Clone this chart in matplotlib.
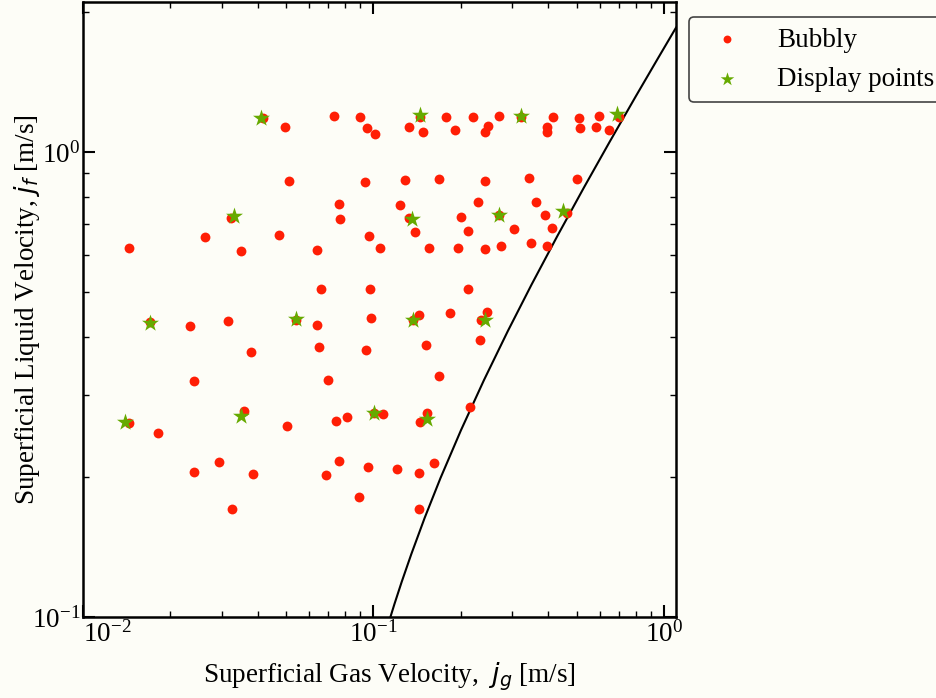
import matplotlib
matplotlib.use('Agg')
import matplotlib.pyplot as plt

# ---------------- data ----------------
bubbly_jg = [0.0418, 0.0494, 0.0733, 0.0896, 0.0952, 0.1014, 0.1328, 0.1450, 0.1481, 0.1782,
             0.1913, 0.2203, 0.2487, 0.2415, 0.2714, 0.3224, 0.4155, 0.3950, 0.3941, 0.5107,
             0.5984, 0.5130, 0.5826, 0.6443, 0.6978,
             0.0513, 0.0937, 0.1287, 0.1676, 0.2415, 0.3434, 0.5038,
             0.0762, 0.1230, 0.2291, 0.3639,
             0.0323, 0.0768, 0.1321, 0.1385, 0.1995, 0.2122, 0.2707, 0.3056, 0.3899, 0.4123, 0.4618,
             0.01443, 0.0263, 0.0351, 0.0474, 0.0639, 0.0967, 0.1055, 0.1557, 0.1955, 0.2415,
             0.2742, 0.3478, 0.3963,
             0.0659, 0.0975, 0.2111,
             0.01706, 0.0234, 0.0316, 0.0542, 0.0637, 0.0980, 0.1438, 0.1372, 0.1835, 0.2346, 0.2467,
             0.0380, 0.0647, 0.0944, 0.1521, 0.2328,
             0.0242, 0.0697, 0.1681,
             0.2144, 0.01440, 0.01813, 0.0357, 0.0502, 0.0744, 0.0808, 0.1006, 0.1078, 0.1529, 0.1450,
             0.0294, 0.0241, 0.0385, 0.0689, 0.0758, 0.0960, 0.1208, 0.1435, 0.1611,
             0.0326, 0.0894, 0.1430]
bubbly_jf = [1.180, 1.130, 1.196, 1.188, 1.125, 1.092, 1.130, 1.188, 1.104, 1.188,
             1.115, 1.188, 1.136, 1.102, 1.194, 1.188, 1.190, 1.129, 1.104, 1.182,
             1.196, 1.125, 1.130, 1.115, 1.188,
             0.865, 0.862, 0.872, 0.873, 0.866, 0.879, 0.876,
             0.774, 0.770, 0.779, 0.780,
             0.721, 0.716, 0.722, 0.671, 0.726, 0.676, 0.732, 0.684, 0.731, 0.685, 0.738,
             0.620, 0.656, 0.611, 0.662, 0.616, 0.660, 0.620, 0.622, 0.622, 0.617,
             0.626, 0.636, 0.628,
             0.507, 0.507, 0.507,
             0.431, 0.422, 0.433, 0.435, 0.425, 0.440, 0.447, 0.436, 0.450, 0.436, 0.453,
             0.372, 0.380, 0.375, 0.384, 0.395,
             0.322, 0.324, 0.329,
             0.283, 0.261, 0.249, 0.277, 0.258, 0.264, 0.269, 0.274, 0.273, 0.274, 0.263,
             0.215, 0.205, 0.203, 0.202, 0.217, 0.210, 0.208, 0.204, 0.214,
             0.171, 0.181, 0.171]

display_jg = [0.0410, 0.1450, 0.3224, 0.6906, 0.0331, 0.1358, 0.2707, 0.4498,
              0.01698, 0.0539, 0.1372, 0.2422, 0.01396, 0.0350, 0.1006, 0.1529]
display_jf = [1.182, 1.202, 1.194, 1.206, 0.727, 0.719, 0.732, 0.746,
              0.428, 0.438, 0.434, 0.436, 0.262, 0.270, 0.274, 0.267]

boundary_jg = [0.113, 0.118, 0.125, 0.135, 0.15, 0.17, 0.2, 0.24, 0.29, 0.35,
               0.43, 0.53, 0.65, 0.8, 0.95, 1.1]
boundary_jf = [0.0976, 0.1065, 0.1189, 0.1366, 0.1633, 0.1988, 0.252, 0.323, 0.4118, 0.5183,
               0.6603, 0.8378, 1.0508, 1.317, 1.583, 1.8495]

xlabel = 'Superficial Gas Velocity,  $j_g$ [m/s]'
ylabel = 'Superficial Liquid Velocity, $j_f$ [m/s]'
legend_labels = ['Bubbly', 'Display points']

# ---------------- style ----------------
bg = '#fdfdf7'
red = '#ff1e05'
green = '#66aa00'
plt.rcParams['font.family'] = ['Liberation Serif', 'DejaVu Serif']
plt.rcParams['mathtext.fontset'] = 'dejavusans'
FS = 19.5

W, H = 936, 698
fig = plt.figure(figsize=(W / 100, H / 100), dpi=100, facecolor=bg)
ax = fig.add_axes([83 / W, 1 - 617 / H, (676 - 83) / W, (617 - 2) / H])
ax.set_facecolor(bg)
ax.set_xscale('log')
ax.set_yscale('log')

ax.plot(boundary_jg, boundary_jf, color='black', lw=1.5, zorder=2)
ax.scatter(bubbly_jg, bubbly_jf, s=50, c=red, linewidths=0, label=legend_labels[0], zorder=3)
ax.scatter(display_jg, display_jf, marker='*', s=165, c=green, linewidths=0,
           label=legend_labels[1], zorder=4)

ax.set_xlim(0.01, 1.1)
ax.set_ylim(0.1, 2.1)

for s in ax.spines.values():
    s.set_linewidth(1.8)
ax.tick_params(which='both', direction='in', top=True, right=True, labelsize=FS)
ax.tick_params(which='major', length=8.5, width=1.5, pad=3)
ax.tick_params(which='minor', length=4.3, width=1.0)
ax.tick_params(axis='y', which='major', pad=2)

ax.set_xlabel(xlabel, fontsize=FS)
ax.set_ylabel(ylabel, fontsize=FS)
ax.xaxis.set_label_coords((389 - 83) / 593, -(661 - 617) / 615)
ax.yaxis.set_label_coords(-(83 - 42) / 593, 0.5)

leg = fig.legend(loc='upper left', bbox_to_anchor=(689 / W, 1 - 16.7 / H), borderaxespad=0,
                 fontsize=FS, handletextpad=0.85, labelspacing=0.52, markerscale=0.8,
                 frameon=True, fancybox=True, edgecolor='#444444', facecolor=bg, framealpha=1)
leg.get_frame().set_linewidth(1.2)

fig.canvas.draw()
for tick in ax.xaxis.get_major_ticks():
    if abs(tick.get_loc() - 0.01) < 1e-9:
        tick.label1.set_horizontalalignment('left')

fig.savefig('out.png', dpi=100, facecolor=bg)
